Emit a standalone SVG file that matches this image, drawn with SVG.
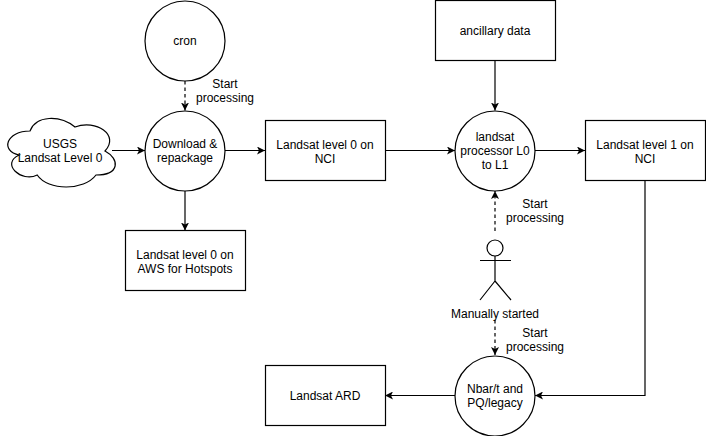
<svg xmlns="http://www.w3.org/2000/svg" width="706" height="436" viewBox="0 0 706 436">
<defs><marker id="a" markerWidth="9" markerHeight="8" refX="8" refY="4" orient="auto" markerUnits="userSpaceOnUse"><path d="M0 0L8 4L0 8L2 4Z" fill="#000"/></marker></defs>
<style>
.s{fill:#fff;stroke:#000;stroke-width:1.2}
text{font-family:"Liberation Sans",Arial,sans-serif;font-size:12px;fill:#000;text-anchor:middle}
.c{fill:none;stroke:#000;stroke-width:1.2;marker-end:url(#a)}
.d{stroke-dasharray:3.5 3}
</style>
<rect width="706" height="436" fill="#fff"/>
<g id="connectors">
<path class="c d" d="M185 81V110.500"/>
<path class="c" d="M112 150.500H145"/>
<path class="c" d="M225 150.500H265"/>
<path class="c" d="M185 191V230.500"/>
<path class="c" d="M385 150.500H455"/>
<path class="c" d="M495 61V110.500"/>
<path class="c" d="M535 150.500H585"/>
<path class="c d" d="M495 231V191"/>
<path class="c d" d="M495 320V355"/>
<path class="c" d="M645 181V395.500H535"/>
<path class="c" d="M455 395.500H385"/>
</g>
<g id="cron"><circle class="s" cx="185" cy="41" r="40"/><text x="185" y="45">cron</text></g>
<g id="usgs"><path class="s" d="M30 131C6 131 0 151 19.200 155C0 163.800 21.600 183 37.200 175C48 191 84 191 96 175C120 175 120 159 105 151C120 135 96 119 75 127C60 115 36 115 30 131Z"/><text x="60" y="148">USGS</text><text x="60" y="162">Landsat Level 0</text></g>
<g id="download"><circle class="s" cx="185" cy="151" r="40"/><text x="185" y="148">Download &amp;</text><text x="185" y="162">repackage</text></g>
<g id="l0nci"><rect class="s" x="265.500" y="120.500" width="120" height="60"/><text x="325" y="149">Landsat level 0 on</text><text x="325" y="163">NCI</text></g>
<g id="l0aws"><rect class="s" x="125.500" y="230.500" width="120" height="60"/><text x="185" y="259">Landsat level 0 on</text><text x="185" y="273">AWS for Hotspots</text></g>
<g id="anc"><rect class="s" x="435.500" y="0.500" width="120" height="60"/><text x="495" y="35">ancillary data</text></g>
<g id="proc"><circle class="s" cx="495" cy="151" r="40"/><text x="495" y="141">landsat</text><text x="495" y="155">processor L0</text><text x="495" y="169">to L1</text></g>
<g id="l1nci"><rect class="s" x="585.500" y="120.500" width="120" height="60"/><text x="645" y="149">Landsat level 1 on</text><text x="645" y="163">NCI</text></g>
<g id="actor"><circle class="s" cx="495" cy="248" r="8"/><path class="s" d="M495 256V281M480 260.500H511M495 281L480 300M495 281L511 300" fill="none"/><text x="495" y="318">Manually started</text></g>
<g id="nbar"><circle class="s" cx="495" cy="396" r="40"/><text x="495" y="393">Nbar/t and</text><text x="495" y="407">PQ/legacy</text></g>
<g id="ard"><rect class="s" x="265.500" y="365.500" width="120" height="60"/><text x="325" y="400">Landsat ARD</text></g>
<g id="labels"><text x="225" y="88">Start</text><text x="225" y="102">processing</text><text x="535" y="208">Start</text><text x="535" y="222">processing</text><text x="535" y="337">Start</text><text x="535" y="351">processing</text></g>
</svg>
